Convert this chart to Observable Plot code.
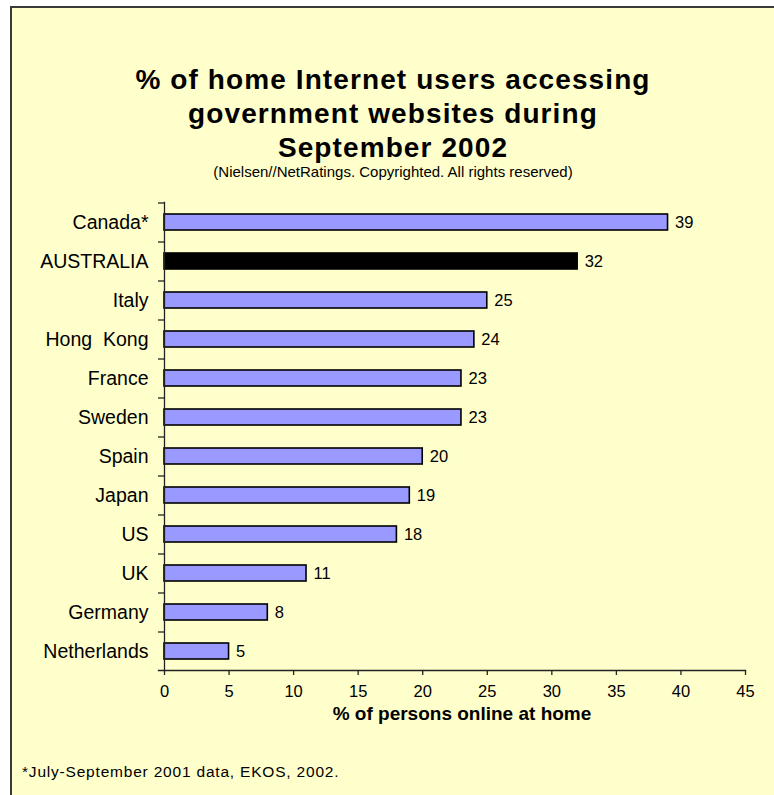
<!DOCTYPE html>
<html>
<head>
<meta charset="utf-8">
<script src="https://cdn.jsdelivr.net/npm/d3@7"></script>
<script src="https://cdn.jsdelivr.net/npm/@observablehq/plot@0.6"></script>
<style>
  html, body { margin: 0; padding: 0; background: #ffffff; width: 774px; height: 795px; overflow: hidden; }
  body { position: relative; font-family: "Liberation Sans", Arial, sans-serif; color: #000; }
  #box { position: absolute; left: 10px; top: 6px; width: 820px; height: 820px; background: #FFFFCC;
         border-left: 2px solid #3a3a3a; border-top: 2px solid #3a3a3a; }
  #title { position: absolute; left: 12px; width: 762px; top: 63px; text-align: center;
           font-weight: 700; font-size: 28px; line-height: 34px; letter-spacing: 1.1px; }
  #subtitle { position: absolute; left: 12px; width: 762px; top: 163px; text-align: center;
              font-size: 15px; line-height: 18px; }
  #chart { position: absolute; left: 0; top: 190px; }
  #foot { position: absolute; left: 22px; top: 763px; font-size: 15.5px; line-height: 18px; letter-spacing: 0.8px; }
</style>
</head>
<body>
<div id="box"></div>
<div id="title">% of home Internet users accessing<br>government websites during<br>September 2002</div>
<div id="subtitle">(Nielsen//NetRatings. Copyrighted. All rights reserved)</div>
<div id="chart"></div>
<div id="foot">*July-September 2001 data, EKOS, 2002.</div>
<script>
const countries = ["Canada*", "AUSTRALIA", "Italy", "Hong  Kong", "France", "Sweden", "Spain", "Japan", "US", "UK", "Germany", "Netherlands"];
const values = [39, 32, 25, 24, 23, 23, 20, 19, 18, 11, 8, 5];
const highlight = "AUSTRALIA";
const xTicks = [0, 5, 10, 15, 20, 25, 30, 35, 40, 45];
const xLabel = "% of persons online at home";

const data = countries.map((c, i) => ({country: c, value: values[i]}));

const chart = Plot.plot({
  width: 774,
  height: 540,
  marginTop: 12,
  marginBottom: 60,
  marginLeft: 164,
  marginRight: 29,
  style: {background: "transparent", fontFamily: "'Liberation Sans', Arial, sans-serif", color: "#000", overflow: "visible"},
  x: {domain: [0, 45], axis: null},
  y: {domain: countries, paddingInner: 0.6, paddingOuter: 0.3, axis: null},
  marks: [
    Plot.barX(data, {
      y: "country", x: "value",
      fill: d => d.country === highlight ? "#000000" : "#9999FF",
      stroke: "#000", strokeWidth: 1.6
    }),
    // category separator ticks on the y axis
    Plot.axisY(countries, {anchor: "left", tickSize: 6, tickFormat: () => "", dy: -19.5, stroke: "#222", strokeWidth: 1.3, label: null}),
    Plot.frame({anchor: "left", stroke: "#222", strokeWidth: 1.3}),
    Plot.frame({anchor: "bottom", stroke: "#222", strokeWidth: 1.3, insetLeft: -6}),
    Plot.axisX(xTicks, {anchor: "bottom", tickSize: 5, tickPadding: 10, fontSize: 16.5, stroke: "#222", strokeWidth: 1.3, label: null}),
    // category labels
    Plot.text(data, {y: "country", x: 0, text: "country", textAnchor: "end", dx: -16, fontSize: 19.5, letterSpacing: 3.1, fill: "#000"}),
    // value labels
    Plot.text(data, {y: "country", x: "value", text: d => String(d.value), textAnchor: "start", dx: 7, fontSize: 16.5, fill: "#000"}),
    // axis title
    Plot.text([xLabel], {frameAnchor: "bottom", dy: 49, dx: 7, text: d => d, fontSize: 19, fontWeight: "bold", letterSpacing: 2.8, fill: "#000"})
  ]
});
document.getElementById("chart").appendChild(chart);
</script>
</body>
</html>
